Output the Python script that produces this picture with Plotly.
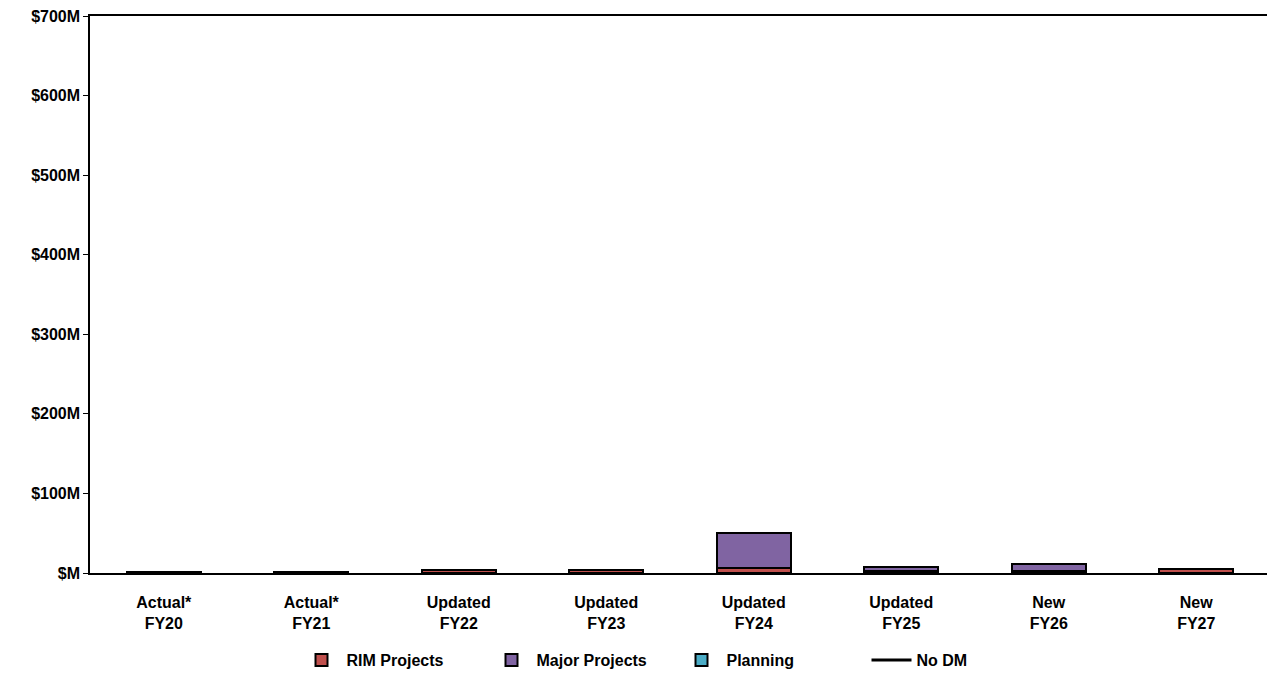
import plotly.graph_objects as go

categories = ["Actual*<br>FY20", "Actual*<br>FY21", "Updated<br>FY22", "Updated<br>FY23",
              "Updated<br>FY24", "Updated<br>FY25", "New<br>FY26", "New<br>FY27"]
rim = [1, 1, 4, 4, 6, 3, 3, 5]
major = [0, 0, 0, 0, 44, 5, 8, 0]
planning = [0, 0, 0, 0, 0, 0, 0, 0]
no_dm = [None] * 8
tick_vals = [0, 100, 200, 300, 400, 500, 600, 700]
tick_text = ["$M", "$100M", "$200M", "$300M", "$400M", "$500M", "$600M", "$700M"]

FAM = "Liberation Sans, Arial"
font = dict(family=FAM, size=16, color="black")

fig = go.Figure()
fig.add_bar(x=categories, y=rim, name="RIM Projects",
            marker=dict(color="#C0504D", line=dict(color="black", width=2)))
fig.add_bar(x=categories, y=major, name="Major Projects",
            marker=dict(color="#8064A2", line=dict(color="black", width=2)))
fig.add_bar(x=categories, y=planning, name="Planning",
            marker=dict(color="#4BACC6", line=dict(color="black", width=2)))
fig.add_scatter(x=categories, y=no_dm, name="No DM", mode="lines",
                line=dict(color="black", width=3))

fig.update_layout(
    barmode="stack",
    bargap=0.5,
    width=1265, height=665,
    margin=dict(l=82, r=3, t=8, b=100, autoexpand=False),
    paper_bgcolor="white", plot_bgcolor="white",
    font=font,
    showlegend=True,
    legend=dict(orientation="h", x=0.175, xanchor="left", y=-0.126, yanchor="top",
                font=dict(family=FAM, size=16, color="black"),
                traceorder="normal", itemwidth=40,
                entrywidth=135, entrywidthmode="pixels"),
    xaxis=dict(showline=True, linecolor="black", linewidth=1.5, mirror=True,
               tickfont=dict(family=FAM, size=16, color="black"),
               ticks="", automargin=False, ticklabelstandoff=14),
    yaxis=dict(range=[0, 700], tickvals=tick_vals, ticktext=tick_text,
               showgrid=False, zeroline=False, automargin=False,
               ticklabeloverflow="allow",
               showline=True, linecolor="black", linewidth=1.5, mirror=True,
               ticks="outside", ticklen=5, tickcolor="black",
               tickfont=dict(family=FAM, size=16, color="black")),
)
fig.update_xaxes(ticktext=["<b>" + c.replace("<br>", "</b><br><b>") + "</b>" for c in categories],
                 tickvals=categories)
fig.update_yaxes(ticktext=["<b>" + t + "</b>" for t in tick_text])
for tr in fig.data:
    tr.name = "<b>" + tr.name + "</b>"

fig.write_html("out.html")
